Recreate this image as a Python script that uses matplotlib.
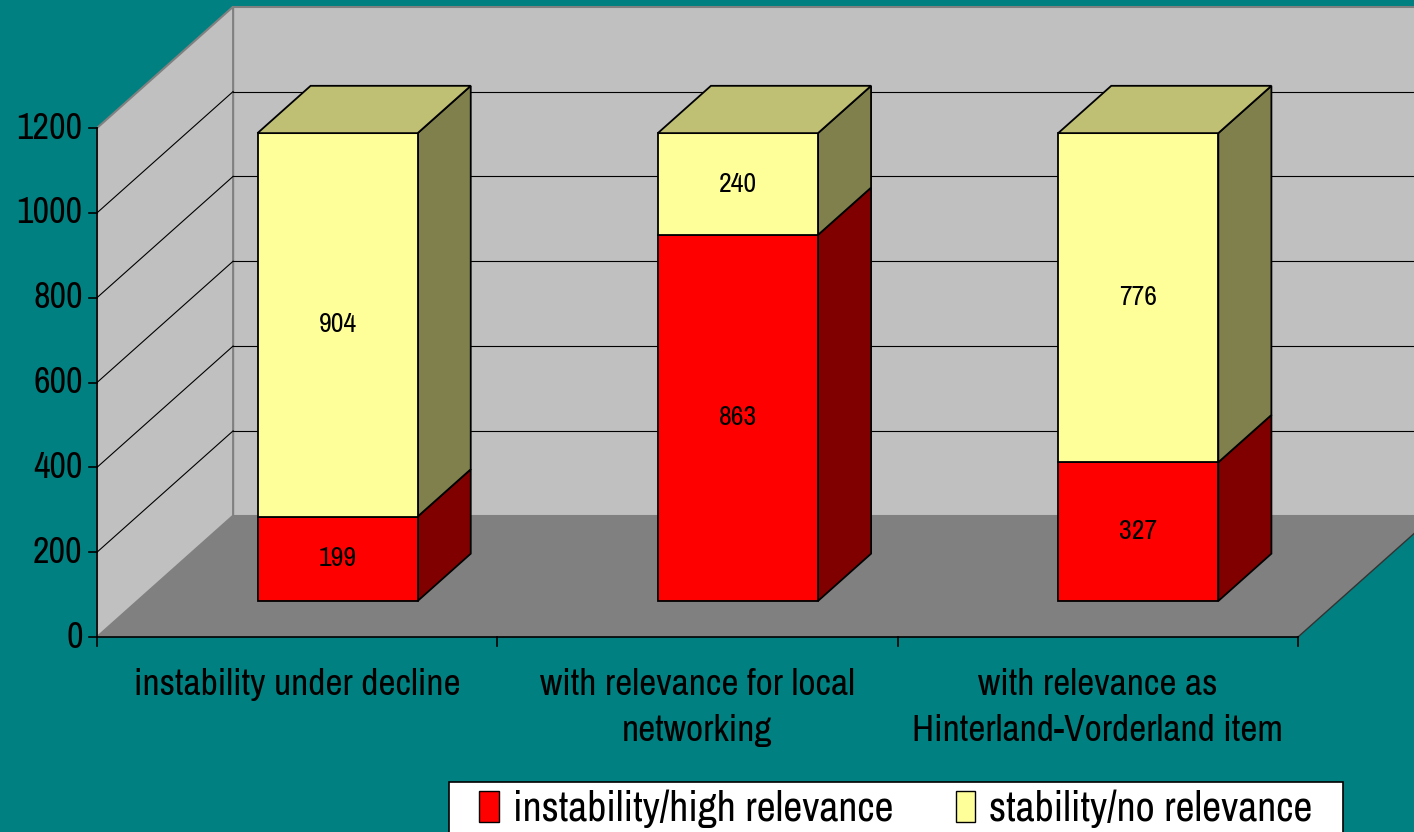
import matplotlib.pyplot as plt
from matplotlib.patches import Polygon, Patch, Rectangle

categories = ["instability under decline",
              "with relevance for local\nnetworking",
              "with relevance as\nHinterland-Vorderland item"]
high_relevance = [199, 863, 327]
no_relevance = [904, 240, 776]
series_names = ["instability/high relevance", "stability/no relevance"]
y_ticks = [0, 200, 400, 600, 800, 1000, 1200]

# face colours per series: front, side, top
series_colors = [("#FF0000", "#800000", "#C00000"),
                 ("#FFFF99", "#80804C", "#BFC073")]

plt.rcParams['font.family'] = ['Archivo Narrow', 'Roboto Condensed', 'Liberation Sans', 'DejaVu Sans']

BG = "#008080"
WALL = "#C0C0C0"
FLOOR = "#808080"

# oblique depth vector in data units (category units, value units)
DX, DY = 0.34, 286.0
BAR_D0, BAR_D1 = 0.297, 0.687
BAR_LEFT, BAR_W = 0.3, 0.4
YMAX = 1200


def shift(x, y, d):
    return (x + d * DX, y + d * DY)


fig = plt.figure(figsize=(14.14, 8.32), dpi=100, facecolor=BG)
ax = fig.add_axes([0, 0, 1, 1])
ax.set_xlim(-0.2423, 3.2898)
ax.set_ylim(-459.7, 1501.8)
ax.axis("off")

n = len(categories)

# walls and floor
back = [shift(0, 0, 1), shift(n + 1, 0, 1), shift(n + 1, YMAX, 1), shift(0, YMAX, 1)]
ax.add_patch(Polygon(back, closed=True, facecolor=WALL, edgecolor=FLOOR, lw=1.5, zorder=1))
left = [(0, 0), shift(0, 0, 1), shift(0, YMAX, 1), (0, YMAX)]
ax.add_patch(Polygon(left, closed=True, facecolor=WALL, edgecolor=FLOOR, lw=1.5, zorder=1))
floor = [(0, 0), (n, 0), shift(n, 0, 1), shift(0, 0, 1)]
ax.add_patch(Polygon(floor, closed=True, facecolor=FLOOR, edgecolor="none", zorder=1))
ax.plot([n, shift(n, 0, 1)[0]], [0, shift(n, 0, 1)[1]], color="#333333", lw=1, zorder=2)

# gridlines
for v in y_ticks[1:-1]:
    p0 = shift(0, v, 1)
    ax.plot([0, p0[0]], [v, p0[1]], color="black", lw=0.8, zorder=2)
    ax.plot([p0[0], n + 1], [p0[1], p0[1]], color="black", lw=0.8, zorder=2)

# axes
ax.plot([0, 0], [0, YMAX], color="black", lw=1.2, zorder=3)
ax.plot([0, n], [0, 0], color="black", lw=1.2, zorder=3)
for v in y_ticks:
    ax.plot([-0.02, 0], [v, v], color="black", lw=1.2, zorder=3)
    ax.text(-0.036, v, str(v), ha="right", va="center", fontsize=26, zorder=3)
for i in range(n + 1):
    ax.plot([i, i], [0, -21], color="black", lw=1.2, zorder=3)
for i, lab in enumerate(categories):
    ax.text(i + 0.5, -72, lab, ha="center", va="top", fontsize=27,
            linespacing=1.5, zorder=3)

# stacked 3D bars
for i in range(n):
    base = 0
    segs = [high_relevance[i], no_relevance[i]]
    for s, val in enumerate(segs):
        front_c, side_c, top_c = series_colors[s]
        x0, x1 = i + BAR_LEFT, i + BAR_LEFT + BAR_W
        y0, y1 = base, base + val
        front = [shift(x0, y0, BAR_D0), shift(x1, y0, BAR_D0),
                 shift(x1, y1, BAR_D0), shift(x0, y1, BAR_D0)]
        side = [shift(x1, y0, BAR_D0), shift(x1, y0, BAR_D1),
                shift(x1, y1, BAR_D1), shift(x1, y1, BAR_D0)]
        top = [shift(x0, y1, BAR_D0), shift(x1, y1, BAR_D0),
               shift(x1, y1, BAR_D1), shift(x0, y1, BAR_D1)]
        z = 4 + s
        ax.add_patch(Polygon(side, closed=True, facecolor=side_c, edgecolor="black", lw=1.3, zorder=z))
        ax.add_patch(Polygon(front, closed=True, facecolor=front_c, edgecolor="black", lw=1.3, zorder=z))
        if s == len(segs) - 1:
            ax.add_patch(Polygon(top, closed=True, facecolor=top_c, edgecolor="black", lw=1.3, zorder=z))
        cx, cy = shift(i + 0.5, base + val / 2, BAR_D0)
        ax.text(cx, cy, str(val), ha="center", va="center", fontsize=20, zorder=10)
        base = y1

# legend box (wider horizontal padding than matplotlib's legend frame allows)
fig.patches.append(Rectangle((449 / 1414, -0.05), (1343 - 449) / 1414, 0.05 + 1 - 782 / 832,
                             transform=fig.transFigure, facecolor="white",
                             edgecolor="black", lw=1.2, zorder=20))
handles = [Patch(facecolor=c[0], edgecolor="black", lw=1) for c in series_colors]
leg = fig.legend(handles, series_names, loc="upper left",
                 bbox_to_anchor=(469 / 1414, 1 - 779 / 832), ncol=2,
                 fontsize=30, frameon=False, borderpad=0.25,
                 handlelength=0.46, handleheight=0.8, handletextpad=0.34,
                 columnspacing=1.5, borderaxespad=0)
leg.set_zorder(21)

fig.savefig("out.png", dpi=100, facecolor=BG)
